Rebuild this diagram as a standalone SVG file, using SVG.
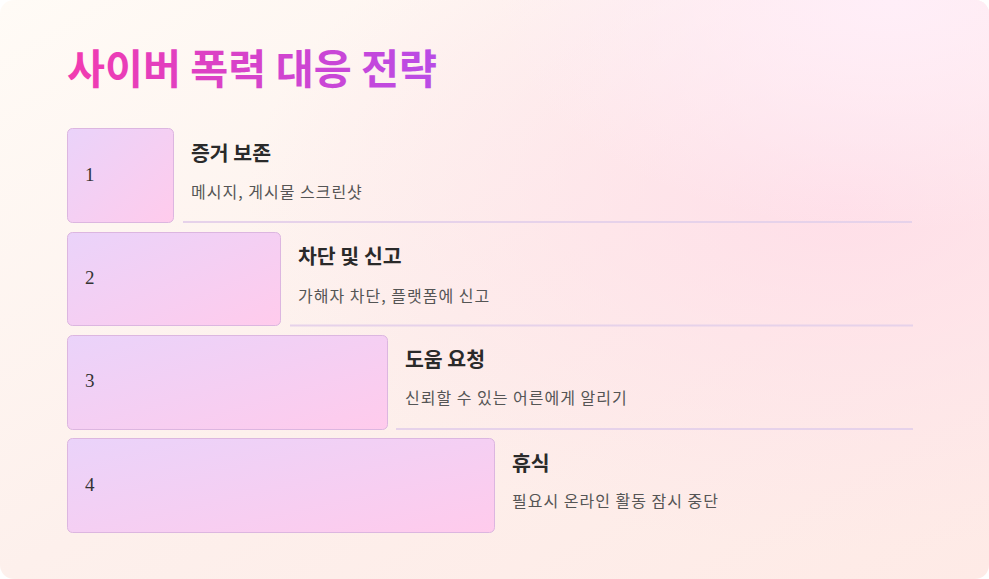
<svg xmlns="http://www.w3.org/2000/svg" width="989" height="579" viewBox="0 0 989 579">
<defs>
<linearGradient id="bg" x1="0" y1="0" x2="1" y2="1">
<stop offset="0" stop-color="#fffbf6"/>
<stop offset="0.5" stop-color="#fdf0ec"/>
<stop offset="1" stop-color="#feeae6"/>
</linearGradient>
<radialGradient id="glow" cx="0.85" cy="0.35" r="0.6">
<stop offset="0" stop-color="#ffdce8" stop-opacity="0.85"/>
<stop offset="1" stop-color="#ffdce8" stop-opacity="0"/>
</radialGradient>
<radialGradient id="glow2" cx="0.9" cy="0" r="0.4">
<stop offset="0" stop-color="#ffeef8" stop-opacity="1"/>
<stop offset="1" stop-color="#ffeef8" stop-opacity="0"/>
</radialGradient>
<linearGradient id="title" x1="0" y1="0" x2="1" y2="0">
<stop offset="0" stop-color="#f23bb0"/>
<stop offset="1" stop-color="#b94be6"/>
</linearGradient>
<linearGradient id="box" x1="0" y1="0" x2="1" y2="1">
<stop offset="0" stop-color="#ead3fa"/>
<stop offset="1" stop-color="#ffcbec"/>
</linearGradient>
<style>
.box{fill:url(#box);stroke:#dcb6e0;stroke-width:1}
.num{font-family:"Liberation Serif","DejaVu Serif",serif;font-size:19px;fill:#333}
.h{font-family:"Noto Sans CJK KR","Noto Sans",sans-serif;font-size:20.5px;font-weight:700;fill:#2a2a2a}
.d{font-family:"Noto Sans CJK KR","Noto Sans",sans-serif;font-size:16px;letter-spacing:1px;fill:#555}
.sep{stroke:#e6d2ea;stroke-width:2}
</style>
</defs>
<rect x="0" y="0" width="989" height="579" fill="#ffffff"/>
<rect x="0" y="0" width="989" height="579" rx="14" fill="url(#bg)"/>
<rect x="0" y="0" width="989" height="579" rx="14" fill="url(#glow)"/>
<rect x="0" y="0" width="989" height="579" rx="14" fill="url(#glow2)"/>
<text x="67" y="84" font-family="Noto Sans CJK KR, Noto Sans, sans-serif" font-size="41.3" font-weight="700" fill="url(#title)">사이버 폭력 대응 전략</text>
<g id="connectors">
<line class="sep" x1="183" y1="222" x2="912" y2="222"/>
<line class="sep" x1="290" y1="325.5" x2="913" y2="325.5"/>
<line class="sep" x1="396" y1="429" x2="913" y2="429"/>
</g>
<g id="step1">
<rect class="box" x="67.5" y="128.5" width="106" height="94" rx="5"/>
<text class="num" x="85" y="181">1</text>
<text class="h" x="191" y="161">증거 보존</text>
<text class="d" x="191" y="197.5">메시지, 게시물 스크린샷</text>
</g>
<g id="step2">
<rect class="box" x="67.5" y="232.5" width="213" height="93" rx="5"/>
<text class="num" x="85" y="284">2</text>
<text class="h" x="298" y="264">차단 및 신고</text>
<text class="d" x="298" y="301.5">가해자 차단, 플랫폼에 신고</text>
</g>
<g id="step3">
<rect class="box" x="67.5" y="335.5" width="320" height="94" rx="5"/>
<text class="num" x="85" y="387">3</text>
<text class="h" x="405" y="367">도움 요청</text>
<text class="d" x="405" y="403.5">신뢰할 수 있는 어른에게 알리기</text>
</g>
<g id="step4">
<rect class="box" x="67.5" y="438.5" width="427" height="94" rx="5"/>
<text class="num" x="85" y="491">4</text>
<text class="h" x="512" y="471">휴식</text>
<text class="d" x="512" y="506.5">필요시 온라인 활동 잠시 중단</text>
</g>
</svg>
